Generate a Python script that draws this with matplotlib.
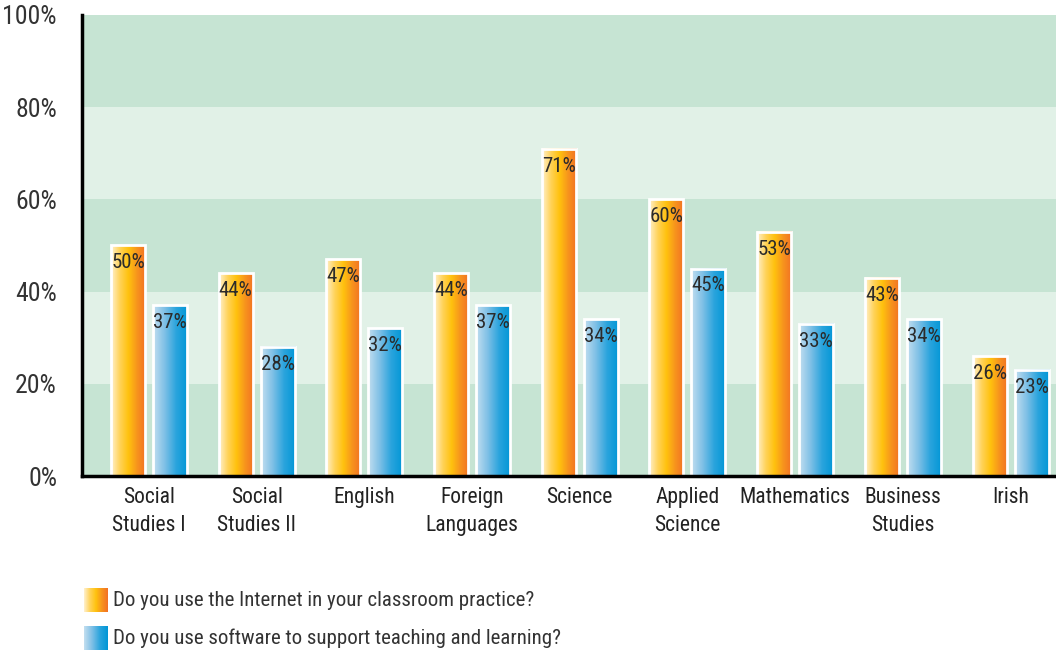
import numpy as np
import matplotlib
matplotlib.use('Agg')
import matplotlib.pyplot as plt
from matplotlib.colors import LinearSegmentedColormap

plt.rcParams['font.family'] = ['Roboto Condensed', 'DejaVu Sans']

subjects = ['Social\nStudies I', 'Social\nStudies II', 'English', 'Foreign\nLanguages',
            'Science', 'Applied\nScience', 'Mathematics', 'Business\nStudies', 'Irish']
internet = [50, 44, 47, 44, 71, 60, 53, 43, 26]
software = [37, 28, 32, 37, 34, 45, 33, 34, 23]
yticks = [0, 20, 40, 60, 80, 100]
legend_labels = ['Do you use the Internet in your classroom practice?',
                 'Do you use software to support teaching and learning?']

orange = LinearSegmentedColormap.from_list(
    'orange', ['#fff1cf', '#ffd35a', '#ffc20e', '#f7941d', '#f27024'])
blue = LinearSegmentedColormap.from_list(
    'blue', ['#c4dff0', '#7fc0e6', '#2aa4dd', '#0096d6'])
grad = np.linspace(0, 1, 256).reshape(1, -1)

fig = plt.figure(figsize=(10.56, 6.5), dpi=100)
ax = fig.add_axes([82 / 1056, 1 - 476 / 650, 1 - 82 / 1056, (476 - 15) / 650])

# background bands
band_dark = '#c6e4d3'
band_light = '#e1f1e7'
for i in range(5):
    ax.axhspan(i * 20, (i + 1) * 20, color=band_dark if i % 2 == 0 else band_light,
               zorder=0, lw=0)

x = np.arange(len(subjects))
w = 0.316
off = 0.195


def gradient_bars(xs, vals, cmap):
    bars = ax.bar(xs, vals, w, color='none', edgecolor='white', linewidth=2, zorder=3)
    for b, v in zip(bars, vals):
        ax.imshow(grad, cmap=cmap, aspect='auto', zorder=2,
                  extent=[b.get_x(), b.get_x() + b.get_width(), 0, v])
        ax.text(b.get_x() + b.get_width() / 2, v - 1.7, '%d%%' % v,
                ha='center', va='top', fontsize=15, color='#2b2b2b', zorder=4)
    return bars


gradient_bars(x - off, internet, orange)
gradient_bars(x + off, software, blue)

ax.set_xlim(-0.622, 8.422)
ax.set_ylim(0, 100)
ax.set_yticks(yticks)
ax.set_yticklabels(['%d%%' % t for t in yticks], fontsize=18.5, color='#333333')
ax.set_xticks(x)
ax.set_xticklabels(subjects, fontsize=15.5, color='#222222', linespacing=1.45)
ax.tick_params(axis='y', length=0, pad=18)
ax.tick_params(axis='x', length=0, pad=8)
for s in ['top', 'right']:
    ax.spines[s].set_visible(False)
for s in ['left', 'bottom']:
    ax.spines[s].set_linewidth(2.5)
    ax.spines[s].set_zorder(5)

# legend, drawn by hand
for i, (lab, cmap) in enumerate(zip(legend_labels, [orange, blue])):
    yc = 600 + i * 38
    sw = fig.add_axes([84 / 1056, 1 - (yc + 12) / 650, 24 / 1056, 24 / 650])
    sw.imshow(grad, cmap=cmap, aspect='auto')
    sw.axis('off')
    fig.text(113 / 1056, 1 - yc / 650, lab, fontsize=15, color='#333333',
             va='center', ha='left')

fig.savefig('out.png', dpi=100)
